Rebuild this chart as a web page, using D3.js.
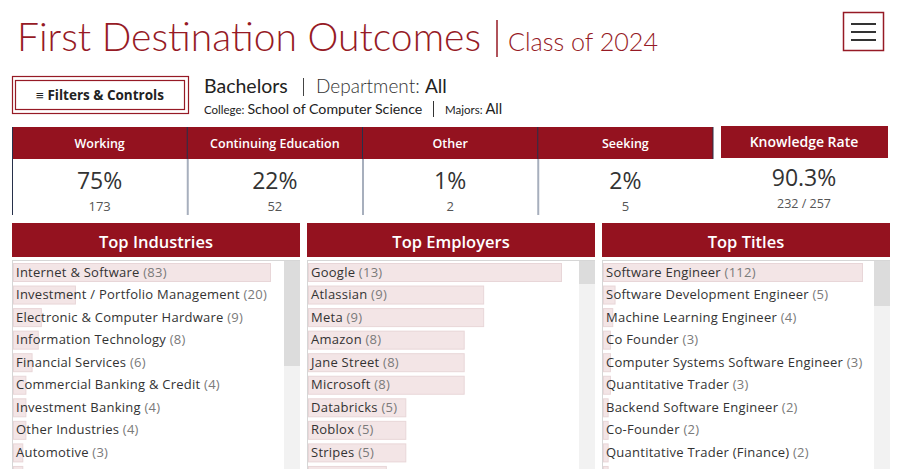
<!DOCTYPE html>
<html><head><meta charset="utf-8">
<script src="https://cdn.jsdelivr.net/npm/d3@7"></script>
<style>
html,body{margin:0;padding:0;background:#fff;overflow:hidden;}
svg{display:block;}
</style></head>
<body>
<svg id="c" width="904" height="469"></svg>
<script>
// ---------- DATA ----------
const titleMain = "First Destination Outcomes";
const titleSub = "Class of 2024";
const kpiLabels = ["Working", "Continuing Education", "Other", "Seeking"];
const kpiPercents = [75, 22, 1, 2];
const kpiCounts = [173, 52, 2, 5];
const knowledgeLabel = "Knowledge Rate";
const knowledgeRate = 90.3;
const knowledgeKnown = 232;
const knowledgeTotal = 257;

const industries = ["Internet & Software", "Investment / Portfolio Management", "Electronic & Computer Hardware",
  "Information Technology", "Financial Services", "Commercial Banking & Credit", "Investment Banking",
  "Other Industries", "Automotive", "Aerospace"];
const industryCounts = [83, 20, 9, 8, 6, 4, 4, 4, 3, 3];

const employers = ["Google", "Atlassian", "Meta", "Amazon", "Jane Street", "Microsoft", "Databricks",
  "Roblox", "Stripes", "Apple"];
const employerCounts = [13, 9, 9, 8, 8, 8, 5, 5, 5, 4];

const jobTitles = ["Software Engineer", "Software Development Engineer", "Machine Learning Engineer",
  "Co Founder", "Computer Systems Software Engineer", "Quantitative Trader", "Backend Software Engineer",
  "Co-Founder", "Quantitative Trader (Finance)", "Data Scientist"];
const jobTitleCounts = [112, 5, 4, 3, 3, 3, 2, 2, 2, 2];

// ---------- STYLE ----------
const RED = "#94121f";
const TITLE_RED = "#961a25";
const NAVY = "#27304a";
const FONT = "Lato, 'Noto Sans', sans-serif";
const BODY = "'Open Sans', 'Noto Sans', sans-serif";

const svg = d3.select("#c");

// ---------- HEADER ----------
svg.append("text").attr("x", 17).attr("y", 51)
  .attr("font-family", FONT).attr("font-weight", 300).attr("font-size", 40)
  .attr("fill", TITLE_RED).attr("textLength", 464).attr("lengthAdjust", "spacingAndGlyphs")
  .text(titleMain);
svg.append("line").attr("x1", 497).attr("x2", 497).attr("y1", 20).attr("y2", 57)
  .attr("stroke", TITLE_RED).attr("stroke-width", 1.5);
svg.append("text").attr("x", 508).attr("y", 51)
  .attr("font-family", FONT).attr("font-weight", 300).attr("font-size", 26)
  .attr("fill", TITLE_RED).attr("textLength", 150).attr("lengthAdjust", "spacingAndGlyphs")
  .text(titleSub);

// hamburger button
svg.append("rect").attr("x", 843.5).attr("y", 12.5).attr("width", 40).attr("height", 38)
  .attr("fill", "#fff").attr("stroke", TITLE_RED).attr("stroke-width", 1.5);
[24, 32, 40].forEach(y => svg.append("line").attr("x1", 851).attr("x2", 876).attr("y1", y).attr("y2", y)
  .attr("stroke", "#333").attr("stroke-width", 2));

// filters button
svg.append("rect").attr("x", 12.5).attr("y", 76.5).attr("width", 176).attr("height", 37)
  .attr("fill", "#fff").attr("stroke", TITLE_RED).attr("stroke-width", 1.2);
svg.append("rect").attr("x", 15.5).attr("y", 80.5).attr("width", 169).attr("height", 29)
  .attr("fill", "none").attr("stroke", TITLE_RED).attr("stroke-width", 1.2);
svg.append("text").attr("x", 100).attr("y", 100).attr("text-anchor", "middle")
  .attr("font-family", BODY).attr("font-weight", 700).attr("font-size", 13.5).attr("fill", "#222")
  .text("\u2261 Filters & Controls");

// filter summary
const s1 = svg.append("text").attr("x", 204).attr("y", 93).attr("font-family", FONT).attr("font-size", 19.5).attr("fill", "#222");
s1.append("tspan").text("Bachelors");
svg.append("line").attr("x1", 303.5).attr("x2", 303.5).attr("y1", 78).attr("y2", 96).attr("stroke", "#444").attr("stroke-width", 1);
const s1b = svg.append("text").attr("x", 316).attr("y", 93).attr("font-family", FONT).attr("font-size", 19).attr("fill", "#333");
s1b.append("tspan").attr("font-weight", 300).text("Department: ");
s1b.append("tspan").attr("fill", "#222").text("All");

const s2 = svg.append("text").attr("x", 204).attr("y", 114).attr("font-family", FONT).attr("fill", "#222");
s2.append("tspan").attr("font-size", 11.5).text("College: ");
s2.append("tspan").attr("font-size", 14.2).text("School of Computer Science");
svg.append("line").attr("x1", 433.5).attr("x2", 433.5).attr("y1", 101).attr("y2", 117).attr("stroke", "#333");
const s3 = svg.append("text").attr("x", 445).attr("y", 114).attr("font-family", FONT).attr("fill", "#222");
s3.append("tspan").attr("font-size", 11.5).text("Majors: ");
s3.append("tspan").attr("font-size", 14.6).text("All");

// ---------- KPI ROW ----------
const kx = d3.scaleBand().domain(kpiLabels).range([12, 713]);
svg.append("rect").attr("x", 12).attr("y", 127).attr("width", 701).attr("height", 32).attr("fill", RED);
kpiLabels.forEach((lab, i) => {
  const cx = kx(lab) + kx.bandwidth() / 2;
  svg.append("text").attr("x", cx).attr("y", 148).attr("text-anchor", "middle")
    .attr("font-family", BODY).attr("font-weight", 600).attr("font-size", 12.5).attr("fill", "#fff").text(lab);
  svg.append("text").attr("x", cx).attr("y", 189).attr("text-anchor", "middle")
    .attr("font-family", BODY).attr("font-size", 23).attr("fill", "#333").text(kpiPercents[i] + "%");
  svg.append("text").attr("x", cx).attr("y", 211).attr("text-anchor", "middle")
    .attr("font-family", BODY).attr("font-size", 13).attr("fill", "#555").text(kpiCounts[i]);
  if (i > 0) {
    const x = kx(lab);
    svg.append("line").attr("x1", x).attr("x2", x).attr("y1", 127).attr("y2", 159).attr("stroke", NAVY).attr("stroke-width", 1);
    svg.append("line").attr("x1", x + 0.5).attr("x2", x + 0.5).attr("y1", 159).attr("y2", 215).attr("stroke", "#a7afbd").attr("stroke-width", 2);
  }
});
svg.append("line").attr("x1", 12.5).attr("x2", 12.5).attr("y1", 127).attr("y2", 215).attr("stroke", NAVY).attr("stroke-width", 1);
svg.append("line").attr("x1", 713).attr("x2", 713).attr("y1", 127).attr("y2", 159).attr("stroke", NAVY).attr("stroke-width", 1);

// knowledge rate
svg.append("rect").attr("x", 721).attr("y", 126).attr("width", 167).attr("height", 32).attr("fill", RED);
svg.append("text").attr("x", 804).attr("y", 147).attr("text-anchor", "middle")
  .attr("font-family", BODY).attr("font-weight", 600).attr("font-size", 14).attr("fill", "#fff").text(knowledgeLabel);
svg.append("text").attr("x", 804).attr("y", 186).attr("text-anchor", "middle")
  .attr("font-family", BODY).attr("font-size", 23).attr("fill", "#333").text(knowledgeRate.toFixed(1) + "%");
svg.append("text").attr("x", 804).attr("y", 208).attr("text-anchor", "middle")
  .attr("font-family", BODY).attr("font-size", 12.5).attr("fill", "#555").text(knowledgeKnown + " / " + knowledgeTotal);

// ---------- LISTS ----------
const panels = [
  {title: "Top Industries", names: industries, counts: industryCounts, x: 12, thumb: 105, maxW: 257},
  {title: "Top Employers", names: employers, counts: employerCounts, x: 307, thumb: 23, maxW: 253},
  {title: "Top Titles", names: jobTitles, counts: jobTitleCounts, x: 602, thumb: 45, maxW: 259}
];
const PW = 288;
const LIST_TOP = 260;
const ROW = 22.55;

svg.append("defs").selectAll("clipPath").data(panels).join("clipPath")
  .attr("id", (d, i) => "clip" + i)
  .append("rect").attr("x", d => d.x).attr("y", LIST_TOP).attr("width", PW - 16).attr("height", 469 - LIST_TOP);

panels.forEach((p, pi) => {
  const g = svg.append("g");
  g.append("rect").attr("x", p.x).attr("y", 223).attr("width", PW).attr("height", 34).attr("fill", RED);
  g.append("text").attr("x", p.x + PW / 2).attr("y", 247.5).attr("text-anchor", "middle")
    .attr("font-family", BODY).attr("font-weight", 600).attr("font-size", 16.5).attr("fill", "#fff").text(p.title);

  // list frame
  g.append("line").attr("x1", p.x).attr("x2", p.x + PW).attr("y1", LIST_TOP + 0.5).attr("y2", LIST_TOP + 0.5).attr("stroke", "#d6d6d6");
  g.append("line").attr("x1", p.x + 0.5).attr("x2", p.x + 0.5).attr("y1", LIST_TOP).attr("y2", 469).attr("stroke", "#d6d6d6");

  // scrollbar
  g.append("rect").attr("x", p.x + PW - 16).attr("y", LIST_TOP + 1).attr("width", 16).attr("height", 469 - LIST_TOP).attr("fill", "#f2f2f2");
  g.append("rect").attr("x", p.x + PW - 16).attr("y", LIST_TOP + 1).attr("width", 16).attr("height", p.thumb).attr("fill", "#dcdcdc");

  const xs = d3.scaleLinear().domain([0, d3.max(p.counts)]).range([0, p.maxW]);
  const ys = d3.scaleLinear().domain([0, 1]).range([LIST_TOP + 3, LIST_TOP + 3 + ROW]);
  const data = p.names.map((n, i) => ({name: n, count: p.counts[i], i}));
  const rows = g.append("g").attr("clip-path", `url(#clip${pi})`)
    .selectAll("g").data(data).join("g");
  rows.append("rect").attr("x", p.x + 1.5).attr("y", d => ys(d.i) + 0.5)
    .attr("width", d => xs(d.count)).attr("height", 18)
    .attr("fill", "#f3e5e6").attr("stroke", "#e8d6d8").attr("stroke-width", 1);
  // only labels whose row lies inside the visible list area (the rest scroll below the fold)
  const t = rows.filter(d => ys(d.i) + 18 <= 469).append("text").attr("x", p.x + 4).attr("y", d => ys(d.i) + 13.5)
    .attr("font-family", BODY).attr("font-size", 13).attr("letter-spacing", 0.25).attr("fill", "#333");
  t.append("tspan").text(d => d.name + " ");
  t.append("tspan").attr("fill", "#7a7a7a").text(d => "(" + d.count + ")");
});
</script>
</body></html>
